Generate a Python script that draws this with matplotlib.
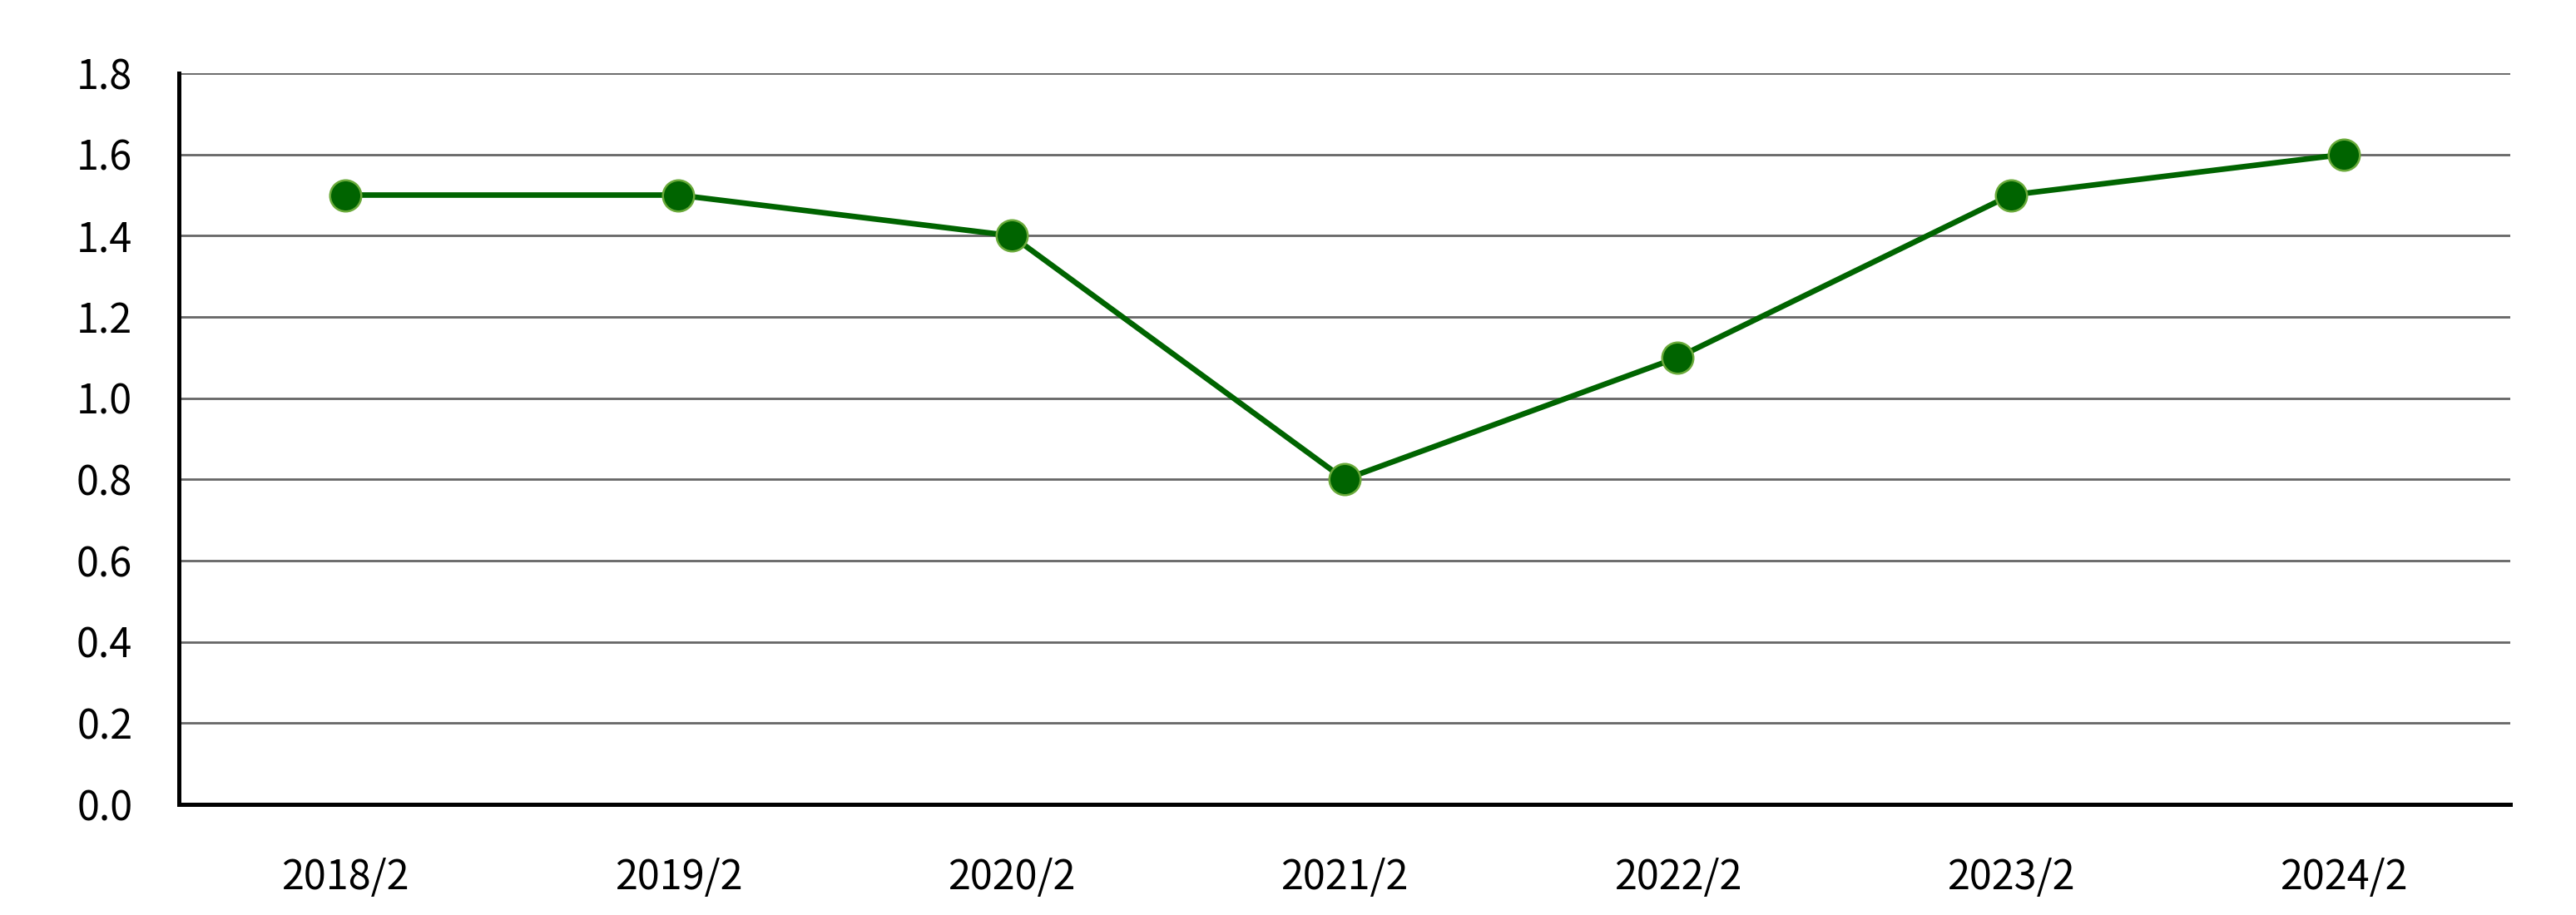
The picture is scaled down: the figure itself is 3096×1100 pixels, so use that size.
import matplotlib
matplotlib.use("Agg")
import matplotlib.pyplot as plt

plt.rcParams['font.family'] = ['Noto Sans CJK JP', 'DejaVu Sans']

periods = ["2018/2", "2019/2", "2020/2", "2021/2", "2022/2", "2023/2", "2024/2"]
values = [1.5, 1.5, 1.4, 0.8, 1.1, 1.5, 1.6]
yticks = [0.0, 0.2, 0.4, 0.6, 0.8, 1.0, 1.2, 1.4, 1.6, 1.8]

fig = plt.figure(figsize=(30.96, 11), dpi=100)
ax = fig.add_axes([0.0694, 0.1209, 0.9051, 0.7991])

x = range(len(periods))
ax.plot(x, values, color='#006400', linewidth=4.8, marker='o', markersize=27,
        markerfacecolor='#006400', markeredgecolor='#6aaa3a', markeredgewidth=1.8,
        zorder=3)

ax.set_xlim(-0.5, len(periods) - 0.5)
ax.set_ylim(0, 1.8)
ax.set_yticks(yticks)
ax.set_yticklabels([f"{v:.1f}" for v in yticks])
ax.set_xticks(list(x))
ax.set_xticklabels(periods)

ax.yaxis.grid(True, color='#666666', linewidth=2)
ax.set_axisbelow(True)
ax.tick_params(axis='both', length=0, labelsize=35)
ax.tick_params(axis='y', pad=40)
ax.tick_params(axis='x', pad=46)

for s in ['top', 'right']:
    ax.spines[s].set_visible(False)
for s in ['left', 'bottom']:
    ax.spines[s].set_linewidth(3.6)
    ax.spines[s].set_color('black')

fig.savefig("out.png", dpi=100)
